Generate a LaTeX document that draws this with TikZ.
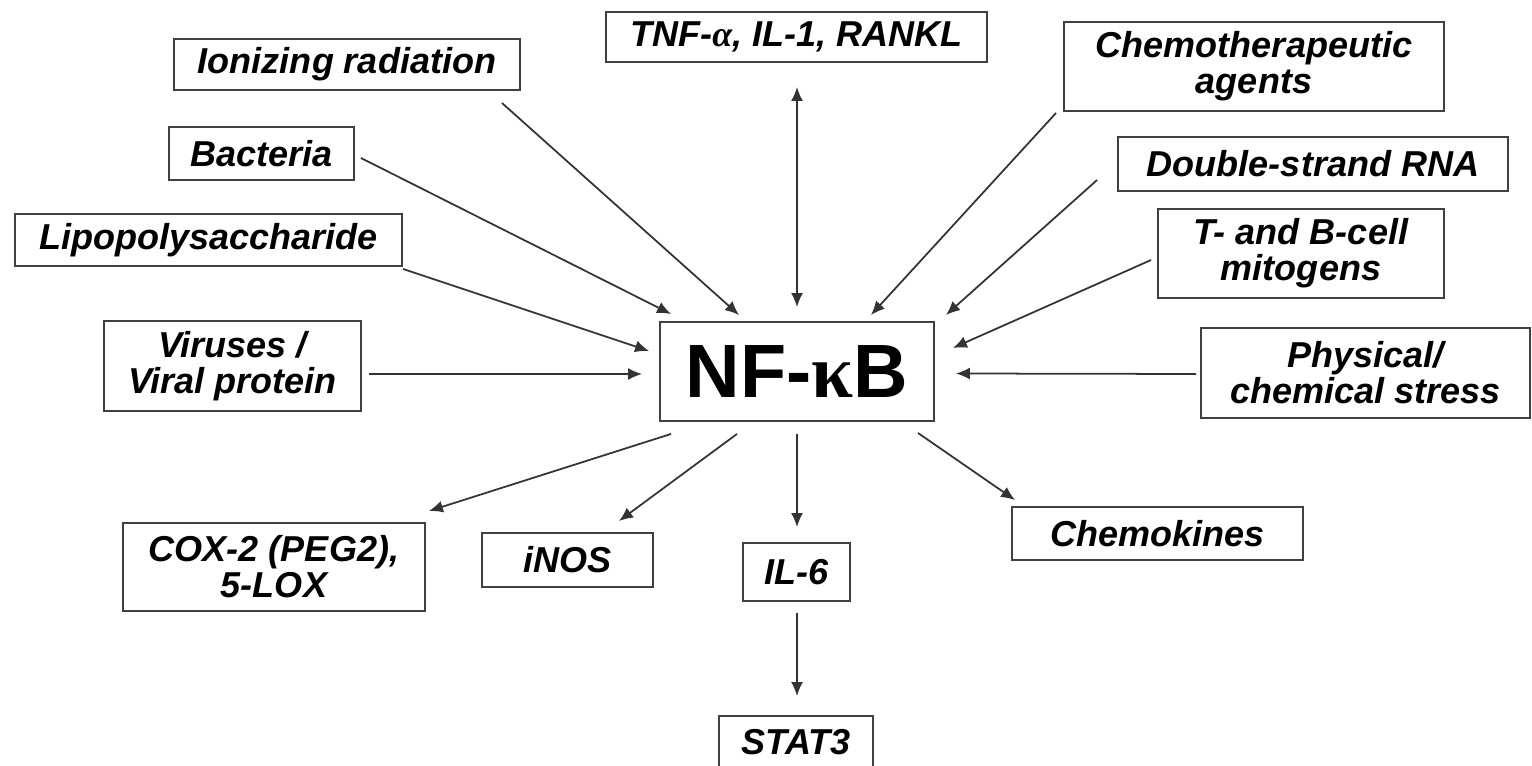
\documentclass[tikz,border=0pt]{standalone}
\usepackage{fontspec}
\setmainfont{Liberation Sans}
\newfontfamily\serifk{Liberation Serif}
\usetikzlibrary{arrows.meta,calc}
\begin{document}
\begin{tikzpicture}[x=0.02cm,y=-0.02cm,
  bx/.style={draw=black!75,line width=1.1pt,fill=white,inner sep=0pt,align=center,
    font=\fontsize{20.5}{20.5}\selectfont\bfseries\itshape},
  arr/.style={draw=black!80,line width=1pt,-{Latex[length=0.28cm,width=0.24cm]}},
  barr/.style={draw=black!80,line width=1pt,{Latex[length=0.28cm,width=0.24cm]}-{Latex[length=0.28cm,width=0.24cm]}}]
\useasboundingbox (0,0) rectangle (1532,766);
% nodes
\node[bx,minimum width=6.92cm,minimum height=1.02cm] (ion) at (347,64.5) {Ionizing radiation};
\node[bx,minimum width=7.62cm,minimum height=1.00cm] (tnf) at (796.5,37) {TNF-{\serifk α}, IL-1, RANKL};
\node[bx,minimum width=7.60cm,minimum height=1.78cm] (chemo) at (1254,66.5) {Chemotherapeutic\\agents};
\node[bx,minimum width=3.70cm,minimum height=1.06cm] (bact) at (261.5,153.5) {Bacteria};
\node[bx,minimum width=7.80cm,minimum height=1.08cm] (ds) at (1313,164) {Double-strand RNA};
\node[bx,minimum width=5.72cm,minimum height=1.78cm] (tb) at (1301,253.5) {T- and B-cell\\mitogens};
\node[bx,minimum width=7.74cm,minimum height=1.04cm] (lipo) at (208.5,240) {Lipopolysaccharide};
\node[bx,minimum width=5.14cm,minimum height=1.80cm] (vir) at (232.5,366) {Viruses /\\Viral protein};
\node[draw=black!75,line width=1.1pt,fill=white,inner sep=0pt,minimum width=5.48cm,minimum height=1.98cm,
  font=\fontsize{43}{45}\selectfont\bfseries] (nfkb) at (797,371.5) {NF-{\serifk κ}B};
\node[bx,minimum width=6.58cm,minimum height=1.80cm] (phys) at (1365.5,373) {Physical/\\chemical stress};
\node[bx,minimum width=6.04cm,minimum height=1.76cm] (cox) at (274,567) {COX-2 (PEG2),\\5-LOX};
\node[bx,minimum width=3.42cm,minimum height=1.08cm] (inos) at (567.5,560) {iNOS};
\node[bx,minimum width=2.14cm,minimum height=1.16cm] (il6) at (796.5,572) {IL-6};
\node[bx,minimum width=5.82cm,minimum height=1.06cm] (chemok) at (1157.5,533.5) {Chemokines};
\node[bx,minimum width=3.08cm,minimum height=1.06cm,anchor=north] (stat) at (796,715) {STAT3};
% inputs
\draw[arr] ($(ion.south east)+(-19,12)$) -- ($(nfkb.north west)+(80,-6)$);
\draw[arr] ($(bact.east)+(6,4.5)$) -- ($(nfkb.north west)+(12,-7)$);
\draw[arr] ($(lipo.south east)+(0,2)$) -- ($(nfkb.west)+(-10,-20.5)$);
\draw[arr] ($(vir.east)+(7,8)$) -- ($(nfkb.west)+(-17,2.5)$);
\draw[barr] ($(tnf.south)+(0.5,24)$) -- ($(nfkb.north)+(0,-14)$);
\draw[arr] ($(chemo.south west)+(-7,1)$) -- ($(nfkb.north east)+(-64,-6)$);
\draw[arr] ($(ds.west)+(-20,16)$) -- ($(nfkb.north east)+(11,-6)$);
\draw[arr] ($(tb.west)+(-6,6.5)$) -- ($(nfkb.east)+(18,-23.5)$);
\draw[arr] ($(phys.west)+(-4,1)$) -- ($(nfkb.east)+(21,2)$);
% outputs
\draw[arr] ($(nfkb.south west)+(12,12)$) -- ($(cox.north east)+(3,-11)$);
\draw[arr] ($(nfkb.south)+(-60,12)$) -- ($(inos.north east)+(-35,-11)$);
\draw[arr] ($(nfkb.south)+(0,12)$) -- ($(il6.north)+(0.5,-15)$);
\draw[arr] ($(nfkb.south east)+(-17,11)$) -- ($(chemok.north west)+(4,-6)$);
\draw[arr] ($(il6.south)+(0.5,11)$) -- ($(stat.north)+(1,-19)$);
\end{tikzpicture}
\end{document}
